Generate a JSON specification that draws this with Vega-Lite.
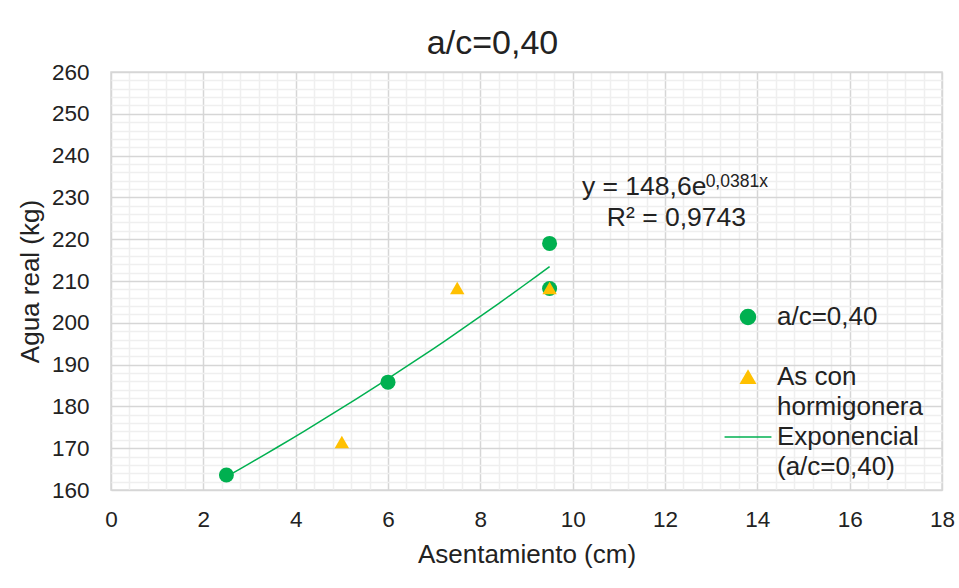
{
  "$schema": "https://vega.github.io/schema/vega-lite/v6.json",
  "width": 831,
  "height": 418,
  "autosize": "none",
  "padding": {"left": 111, "top": 72, "right": 17, "bottom": 98},
  "background": "white",
  "config": {
    "font": "Liberation Sans",
    "view": {"stroke": "#d9d9d9", "strokeWidth": 1.5},
    "style": {"guide-label": {"lineHeight": 30}},
    "axis": {
      "domain": false,
      "ticks": false,
      "labelFont": "Liberation Sans",
      "labelFontSize": 22.5,
      "labelColor": "#222222",
      "titleFont": "Liberation Sans",
      "titleFontSize": 26,
      "titleFontWeight": "normal",
      "titleColor": "#222222",
      "labelOverlap": false,
      "labelFlush": false
    },
    "legend": {
      "title": null,
      "orient": "none",
      "legendX": 624,
      "legendY": 232,
      "padding": 0,
      "labelFontSize": 26,
      "labelFont": "Liberation Sans",
      "labelColor": "#222222",
      "labelLimit": 0,
      "labelOffset": 16,
      "rowPadding": 4,
      "symbolStrokeWidth": 1.5,
      "symbolOpacity": 1
    }
  },
  "title": {
    "text": "a/c=0,40",
    "font": "Liberation Sans",
    "fontSize": 34,
    "fontWeight": "normal",
    "color": "#222222",
    "anchor": "middle",
    "frame": "group",
    "dx": -34,
    "offset": -34,
    "baseline": "bottom"
  },
  "data": {
    "values": [
      {"serie": "a/c=0,40", "asent": 2.5, "agua": 163.6},
      {"serie": "a/c=0,40", "asent": 6, "agua": 185.8},
      {"serie": "a/c=0,40", "asent": 9.5, "agua": 219},
      {"serie": "a/c=0,40", "asent": 9.5, "agua": 208.2},
      {"serie": "As con hormigonera", "asent": 5, "agua": 171.5},
      {"serie": "As con hormigonera", "asent": 7.5, "agua": 208.3},
      {"serie": "As con hormigonera", "asent": 9.5, "agua": 208.3}
    ]
  },
  "encoding": {
    "x": {
      "field": "asent",
      "type": "quantitative",
      "title": "Asentamiento (cm)",
      "scale": {"domain": [0, 18], "nice": false, "zero": false},
      "axis": {
        "values": [0,0.4,0.8,1.2,1.6,2,2.4,2.8,3.2,3.6,4,4.4,4.8,5.2,5.6,6,6.4,6.8,7.2,7.6,8,8.4,8.8,9.2,9.6,10,10.4,10.8,11.2,11.6,12,12.4,12.8,13.2,13.6,14,14.4,14.8,15.2,15.6,16,16.4,16.8,17.2,17.6,18],
        "labelExpr": "abs(datum.value/2 - round(datum.value/2)) < 0.001 ? format(datum.value, 'd') : ''",
        "labelPadding": 18,
        "titlePadding": 11,
        "gridColor": {"condition": {"test": "abs(datum.value/2 - round(datum.value/2)) < 0.001", "value": "#d6d6d6"}, "value": "#efefef"},
        "gridWidth": 1.5
      }
    },
    "y": {
      "field": "agua",
      "type": "quantitative",
      "title": "Agua real (kg)",
      "scale": {"domain": [160, 260], "nice": false, "zero": false},
      "axis": {
        "values": [160,162,164,166,168,170,172,174,176,178,180,182,184,186,188,190,192,194,196,198,200,202,204,206,208,210,212,214,216,218,220,222,224,226,228,230,232,234,236,238,240,242,244,246,248,250,252,254,256,258,260],
        "labelExpr": "datum.value % 10 === 0 ? format(datum.value, 'd') : ''",
        "labelPadding": 22,
        "titlePadding": 8,
        "gridColor": {"condition": {"test": "datum.value % 10 === 0", "value": "#d6d6d6"}, "value": "#efefef"},
        "gridWidth": 1.5
      }
    }
  },
  "layer": [
    {
      "transform": [
        {"filter": "datum.serie === 'a/c=0,40'"},
        {"regression": "agua", "on": "asent", "method": "exp", "extent": [2.5, 9.5]}
      ],
      "mark": {"type": "line", "color": "#00B050", "strokeWidth": 1.5}
    },
    {
      "mark": {"type": "point", "filled": true, "opacity": 1, "strokeWidth": 0},
      "encoding": {
        "color": {
          "field": "serie",
          "type": "nominal",
          "scale": {"domain": ["a/c=0,40", "As con hormigonera", "Exponencial (a/c=0,40)"], "range": ["#00B050", "#FFC000", "#00B050"]},
          "legend": {
            "labelExpr": "datum.label === 'As con hormigonera' ? ['As con', 'hormigonera'] : datum.label === 'Exponencial (a/c=0,40)' ? ['Exponencial', '(a/c=0,40)'] : [datum.label, '']"
          }
        },
        "stroke": {
          "field": "serie",
          "type": "nominal",
          "scale": {"domain": ["a/c=0,40", "As con hormigonera", "Exponencial (a/c=0,40)"], "range": ["#00B050", "#FFC000", "#00B050"]},
          "legend": {
            "labelExpr": "datum.label === 'As con hormigonera' ? ['As con', 'hormigonera'] : datum.label === 'Exponencial (a/c=0,40)' ? ['Exponencial', '(a/c=0,40)'] : [datum.label, '']"
          }
        },
        "shape": {
          "field": "serie",
          "type": "nominal",
          "scale": {"domain": ["a/c=0,40", "As con hormigonera", "Exponencial (a/c=0,40)"], "range": ["circle", "triangle-up", "M-3.4,0H3.4"]},
          "legend": {
            "labelExpr": "datum.label === 'As con hormigonera' ? ['As con', 'hormigonera'] : datum.label === 'Exponencial (a/c=0,40)' ? ['Exponencial', '(a/c=0,40)'] : [datum.label, '']"
          }
        },
        "size": {
          "field": "serie",
          "type": "nominal",
          "scale": {"domain": ["a/c=0,40", "As con hormigonera", "Exponencial (a/c=0,40)"], "range": [225, 190, 225]},
          "legend": {
            "labelExpr": "datum.label === 'As con hormigonera' ? ['As con', 'hormigonera'] : datum.label === 'Exponencial (a/c=0,40)' ? ['Exponencial', '(a/c=0,40)'] : [datum.label, '']"
          }
        }
      }
    },
    {
      "transform": [{"filter": "datum.asent === 2.5"}],
      "mark": {"type": "text", "text": "y = 148,6e", "fontSize": 26.5, "align": "left", "baseline": "alphabetic", "color": "#222222", "font": "Liberation Sans"},
      "encoding": {"x": {"datum": 10.2}, "y": {"datum": 230.6}}
    },
    {
      "transform": [{"filter": "datum.asent === 2.5"}],
      "mark": {"type": "text", "text": "0,0381x", "fontSize": 17.5, "align": "left", "baseline": "alphabetic", "color": "#222222", "font": "Liberation Sans"},
      "encoding": {"x": {"datum": 12.88}, "y": {"datum": 232.6}}
    },
    {
      "transform": [{"filter": "datum.asent === 2.5"}],
      "mark": {"type": "text", "text": "R² = 0,9743", "fontSize": 26.5, "align": "left", "baseline": "alphabetic", "color": "#222222", "font": "Liberation Sans"},
      "encoding": {"x": {"datum": 10.74}, "y": {"datum": 223.2}}
    }
  ]
}
